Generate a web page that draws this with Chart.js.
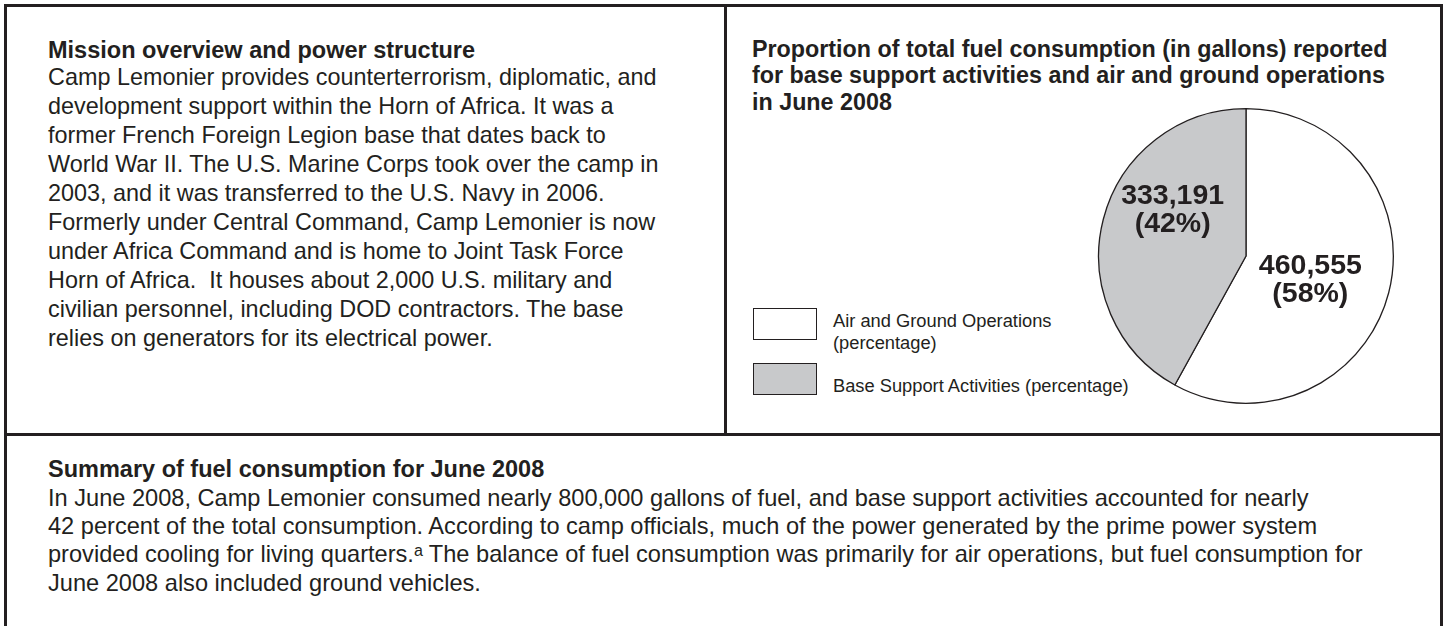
<!DOCTYPE html>
<html>
<head>
<meta charset="utf-8">
<script src="https://cdn.jsdelivr.net/npm/chart.js@4.4.0/dist/chart.umd.min.js"></script>
<style>
  body { margin: 0; background: #fff; font-family: "Liberation Sans", Arial, sans-serif; color: #231f20; }
  #page { position: relative; width: 1447px; height: 626px; overflow: hidden; }
  .line { position: absolute; background: #231f20; }
  .txt { position: absolute; white-space: pre; }
  .head { font-weight: bold; }
  #legend { position: absolute; left: 753px; top: 0; font-size: 18.3px; }
  .lg-box { position: absolute; left: 0; width: 62px; height: 30px; border: 1.5px solid #231f20; }
  .lg-text { position: absolute; left: 80px; white-space: pre; line-height: 21.5px; }
  #pieBox { position: absolute; left: 1096px; top: 106px; width: 300px; height: 300px; }
</style>
</head>
<body>
<div id="page">
  <div class="line" style="left:4px;top:4px;width:1439px;height:3px"></div>
  <div class="line" style="left:4px;top:4px;width:3px;height:630px"></div>
  <div class="line" style="left:1440px;top:4px;width:3px;height:630px"></div>
  <div class="line" style="left:724px;top:4px;width:3px;height:431px"></div>
  <div class="line" style="left:4px;top:433px;width:1439px;height:3px"></div>

  <div class="txt head" style="left:48px;top:35.5px;font-size:23.5px;line-height:29px">Mission overview and power structure</div>
  <div class="txt" style="left:48px;top:63.4px;font-size:23.4px;line-height:29px">Camp Lemonier provides counterterrorism, diplomatic, and
development support within the Horn of Africa. It was a
former French Foreign Legion base that dates back to
World War II. The U.S. Marine Corps took over the camp in
2003, and it was transferred to the U.S. Navy in 2006.
Formerly under Central Command, Camp Lemonier is now
under Africa Command and is home to Joint Task Force
Horn of Africa.  It houses about 2,000 U.S. military and
civilian personnel, including DOD contractors. The base
relies on generators for its electrical power.</div>

  <div class="txt head" style="left:752px;top:35.6px;font-size:23.3px;line-height:26.5px">Proportion of total fuel consumption (in gallons) reported
for base support activities and air and ground operations
in June 2008</div>

  <div class="txt head" style="left:48px;top:454.6px;font-size:23.5px;line-height:28.4px">Summary of fuel consumption for June 2008</div>
  <div class="txt" style="left:48px;top:483.6px;font-size:23.6px;line-height:28.4px">In June 2008, Camp Lemonier consumed nearly 800,000 gallons of fuel, and base support activities accounted for nearly
42 percent of the total consumption. According to camp officials, much of the power generated by the prime power system
provided cooling for living quarters.ᵃ The balance of fuel consumption was primarily for air operations, but fuel consumption for
June 2008 also included ground vehicles.</div>

  <div id="legend"></div>
  <div id="pieBox"><canvas id="pie"></canvas></div>
</div>

<script>
// data
var categories = ["Air and Ground Operations", "Base Support Activities"];
var legendLabels = [["Air and Ground Operations", "(percentage)"], ["Base Support Activities (percentage)"]];
var gallons = [460555, 333191];
var percents = [58, 42];
var colors = ["#ffffff", "#c8c9cb"];

// labels drawn inside the slices
var sliceLabels = {
  id: "sliceLabels",
  afterDatasetsDraw: function(chart) {
    var ctx = chart.ctx;
    var arcs = chart.getDatasetMeta(0).data;
    var nudge = [[-7, 4], [-2, -30]];
    ctx.save();
    ctx.font = "bold 28.5px 'Liberation Sans', Arial, sans-serif";
    ctx.fillStyle = "#231f20";
    ctx.textAlign = "center";
    ctx.textBaseline = "alphabetic";
    for (var i = 0; i < arcs.length; i++) {
      var p = arcs[i].tooltipPosition();
      var x = p.x + nudge[i][0];
      var y = p.y + nudge[i][1];
      ctx.fillText(gallons[i].toLocaleString("en-US"), x, y - 4);
      ctx.fillText("(" + percents[i] + "%)", x, y + 24);
    }
    ctx.restore();
  }
};

var chart = new Chart(document.getElementById("pie"), {
  type: "pie",
  data: {
    labels: categories,
    datasets: [{
      data: gallons,
      backgroundColor: colors,
      borderColor: "#231f20",
      borderWidth: 1.3
    }]
  },
  options: {
    responsive: true,
    maintainAspectRatio: false,
    animation: false,
    events: [],
    layout: { padding: 2 },
    plugins: {
      legend: { display: false },
      tooltip: { enabled: false }
    }
  },
  plugins: [sliceLabels]
});

// html legend built from the chart's data
var legend = document.getElementById("legend");
var boxTops = [308, 363];
var textTops = [310, 375];
for (var i = 0; i < categories.length; i++) {
  var box = document.createElement("div");
  box.className = "lg-box";
  box.style.top = boxTops[i] + "px";
  box.style.background = chart.data.datasets[0].backgroundColor[i];
  var t = document.createElement("div");
  t.className = "lg-text";
  t.style.top = textTops[i] + "px";
  t.textContent = legendLabels[i].join("\n");
  legend.appendChild(box);
  legend.appendChild(t);
}
</script>
</body>
</html>
